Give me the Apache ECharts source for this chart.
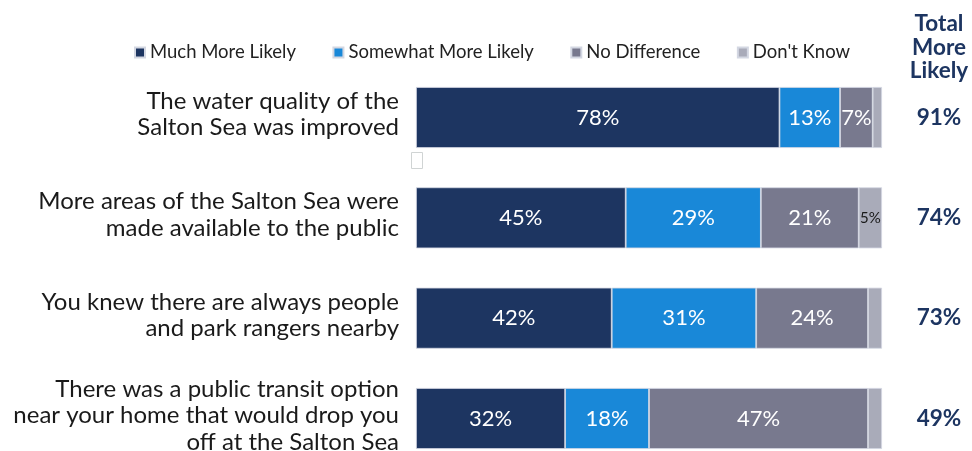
<!DOCTYPE html>
<html>
<head>
<meta charset="utf-8">
<script src="https://cdn.jsdelivr.net/npm/echarts@6/dist/echarts.min.js"></script>
<style>
  html, body { margin: 0; padding: 0; background: #ffffff; }
  #chart { width: 972px; height: 451px; }
</style>
</head>
<body>
<div id="chart"></div>
<script>
// Survey items (top to bottom)
const categories = [
  'The water quality of the\nSalton Sea was improved',
  'More areas of the Salton Sea were\nmade available to the public',
  'You knew there are always people\nand park rangers nearby',
  'There was a public transit option\nnear your home that would drop you\noff at the Salton Sea'
];

// Response shares, percent
const muchMoreLikely     = [78, 45, 42, 32];
const somewhatMoreLikely = [13, 29, 31, 18];
const noDifference       = [7, 21, 24, 47];
const dontKnow           = [2, 5, 3, 3];

// Combined "more likely" totals shown at the right
const totalMoreLikely = ['91%', '74%', '73%', '49%'];

const FONT = 'Lato, "Open Sans", sans-serif';
const NAVY = '#1d3561';

function barSeries(name, data, color, labelStyle) {
  return {
    name: name,
    type: 'bar',
    stack: 'all',
    data: data,
    barWidth: 61,
    itemStyle: { color: color, borderColor: '#d3d7e2', borderWidth: 0.8 },
    label: Object.assign({
      show: true,
      position: 'inside',
      color: '#ffffff',
      fontFamily: FONT,
      fontSize: 22,
      formatter: function (p) { return p.value + '%'; }
    }, labelStyle || {})
  };
}

const chart = echarts.init(document.getElementById('chart'));
chart.setOption({
  animation: false,
  backgroundColor: '#ffffff',
  textStyle: { fontFamily: FONT },
  legend: {
    top: 38,
    left: 129,
    itemWidth: 10,
    itemHeight: 10,
    itemGap: 36.5,
    icon: 'rect',
    textStyle: { fontFamily: FONT, fontSize: 18.5, color: '#222222' },
    data: ['Much More Likely', 'Somewhat More Likely', 'No Difference', "Don't Know"]
  },
  // category centres sit on the grid edges (boundaryGap: false)
  grid: {
    left: 416, right: 90, top: 117.5, height: 301,
    containLabel: false,
    outerBoundsMode: 'none'
  },
  xAxis: {
    type: 'value',
    min: 0,
    max: 100,
    show: false
  },
  yAxis: [
    {
      type: 'category',
      inverse: true,
      boundaryGap: false,
      data: categories,
      axisLine: { show: false },
      axisTick: { show: false },
      splitLine: { show: false },
      axisLabel: {
        margin: 17,
        fontFamily: FONT,
        fontSize: 24,
        lineHeight: 26.5,
        color: '#1a1a1a',
        align: 'right',
        // a thin trailing line lifts the text block slightly
        formatter: function (v) { return v + '\n{g| }'; },
        rich: { g: { fontSize: 1, lineHeight: 6 } }
      }
    },
    {
      type: 'category',
      inverse: true,
      boundaryGap: false,
      position: 'right',
      data: totalMoreLikely,
      axisLine: { show: false },
      axisTick: { show: false },
      splitLine: { show: false },
      axisLabel: {
        margin: 57,
        align: 'center',
        fontFamily: FONT,
        fontSize: 22.5,
        fontWeight: 'bold',
        color: NAVY
      }
    }
  ],
  graphic: [
    {
      type: 'text',
      x: 939,
      y: 12,
      style: {
        text: 'Total\nMore\nLikely',
        fill: NAVY,
        font: 'bold 22.5px ' + FONT,
        lineHeight: 23.5,
        align: 'center',
        verticalAlign: 'top'
      }
    },
    {
      type: 'rect',
      shape: { x: 411.5, y: 152.5, width: 11, height: 16 },
      style: { fill: '#ffffff', stroke: '#d0d4d4', lineWidth: 1 }
    }
  ],
  series: [
    barSeries('Much More Likely', muchMoreLikely, '#1d3561'),
    barSeries('Somewhat More Likely', somewhatMoreLikely, '#1988d8'),
    barSeries('No Difference', noDifference, '#78798e'),
    barSeries("Don't Know", dontKnow, '#a9abb9', {
      color: '#1a1a1a',
      fontSize: 15,
      formatter: function (p) { return p.value >= 5 ? p.value + '%' : ''; }
    })
  ]
});
</script>
</body>
</html>
